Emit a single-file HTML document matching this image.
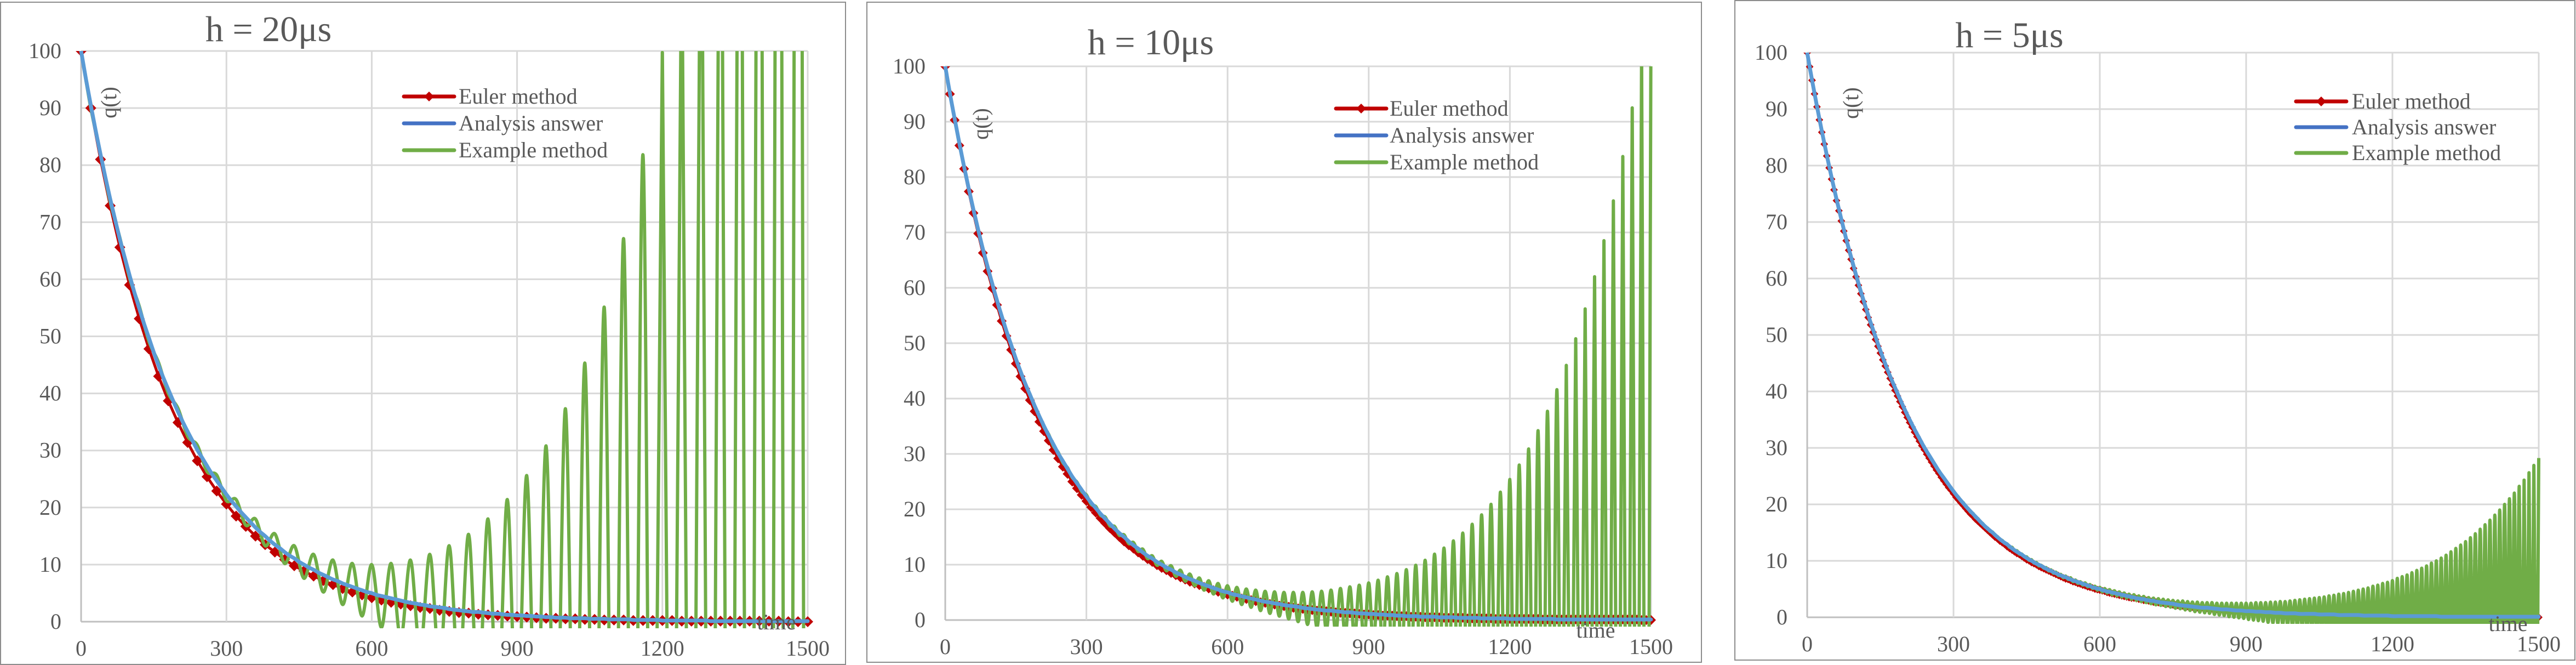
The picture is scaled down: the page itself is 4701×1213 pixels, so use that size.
<!DOCTYPE html>
<html><head><meta charset="utf-8"><title>Euler vs analytic vs example method</title>
<style>
html,body{margin:0;padding:0;background:#fff;width:4701px;height:1213px;overflow:hidden;}
svg{display:block;}
text{font-family:"Liberation Serif","Times New Roman",serif;fill:#595959;}
</style></head>
<body>
<svg id="chart" xmlns="http://www.w3.org/2000/svg" width="4701" height="1213" viewBox="0 0 4701 1213"></svg>
<script>
// ---------- DATA ----------
const xTicks = [0, 300, 600, 900, 1200, 1500];
const yTicks = [0, 10, 20, 30, 40, 50, 60, 70, 80, 90, 100];
const seriesNames = ["Euler method", "Analysis answer", "Example method"];
const panelTitles = ["h = 20\u03bcs", "h = 10\u03bcs", "h = 5\u03bcs"];
const stepSizes = [20, 10, 5];
const analyticStep = 10;
// analytic answer q(t), t = 0..1500 every 10
const analyticValues = [100,95.1,90.5,86.1,81.9,77.9,74.1,70.5,67.0,63.8,
60.7,57.7,54.9,52.2,49.7,47.2,44.9,42.7,40.7,38.7,
36.8,35.0,33.3,31.7,30.1,28.7,27.3,25.9,24.7,23.5,
22.3,21.2,20.2,19.2,18.3,17.4,16.5,15.7,15.0,14.2,
13.5,12.9,12.2,11.6,11.1,10.5,10.0,9.5,9.1,8.6,
8.2,7.8,7.4,7.1,6.7,6.4,6.1,5.8,5.5,5.2,
5.0,4.7,4.5,4.3,4.1,3.9,3.7,3.5,3.3,3.2,
3.0,2.9,2.7,2.6,2.5,2.4,2.2,2.1,2.0,1.9,
1.8,1.7,1.7,1.6,1.5,1.4,1.4,1.3,1.2,1.2,
1.1,1.1,1.0,1.0,0.9,0.9,0.8,0.8,0.7,0.7,
0.7,0.6,0.6,0.6,0.6,0.5,0.5,0.5,0.5,0.4,
0.4,0.4,0.4,0.4,0.3,0.3,0.3,0.3,0.3,0.3,
0.2,0.2,0.2,0.2,0.2,0.2,0.2,0.2,0.2,0.2,
0.1,0.1,0.1,0.1,0.1,0.1,0.1,0.1,0.1,0.1,
0.1,0.1,0.1,0.1,0.1,0.1,0.1,0.1,0.1,0.1,0.1];
// h = 20
const euler20 = [100,90,81,72.9,65.6,59.0,53.1,47.8,43.0,38.7,
34.9,31.4,28.2,25.4,22.9,20.6,18.5,16.7,15.0,13.5,
12.2,10.9,9.8,8.9,8.0,7.2,6.5,5.8,5.2,4.7,
4.2,3.8,3.4,3.1,2.8,2.5,2.3,2.0,1.8,1.6,
1.5,1.3,1.2,1.1,1.0,0.9,0.8,0.7,0.6,0.6,
0.5,0.5,0.4,0.4,0.3,0.3,0.3,0.2,0.2,0.2,
0.2,0.2,0.1,0.1,0.1,0.1,0.1,0.1,0.1,0.1,
0.1,0.1,0.1,0.0,0.0,0.0];
const example20 = [100,90.0,82.0,73.6,67.3,60.2,55.3,49.1,45.4,40.0,
37.4,32.5,30.9,26.3,25.7,21.2,21.4,16.9,18.0,13.3,
15.4,10.2,13.3,7.6,11.8,5.2,10.8,3.0,10.2,1.0,
10.0,-1.0,10.2,-3.0,10.8,-5.2,11.8,-7.5,13.3,-10.2,
15.3,-13.3,18.0,-16.9,21.4,-21.1,25.6,-26.3,30.8,-32.4,
37.3,-39.9,45.3,-48.9,55.1,-59.9,67.1,-73.4,81.8,-89.7,
99.7,-109.7,121.6,-134.0,148.5,-163.7,181.1,-199.9,221.1,-244.1,
270.0,-298.1,329.6,-364.0,402.4,-444.4];
// h = 10
const euler10 = [100,95,90.3,85.7,81.5,77.4,73.5,69.8,66.3,63.0,
59.9,56.9,54.0,51.3,48.8,46.3,44.0,41.8,39.7,37.7,
35.8,34.1,32.4,30.7,29.2,27.7,26.4,25.0,23.8,22.6,
21.5,20.4,19.4,18.4,17.5,16.6,15.8,15.0,14.2,13.5,
12.9,12.2,11.6,11.0,10.5,9.9,9.4,9.0,8.5,8.1,
7.7,7.3,6.9,6.6,6.3,6.0,5.7,5.4,5.1,4.8,
4.6,4.4,4.2,3.9,3.8,3.6,3.4,3.2,3.1,2.9,
2.8,2.6,2.5,2.4,2.2,2.1,2.0,1.9,1.8,1.7,
1.7,1.6,1.5,1.4,1.3,1.3,1.2,1.2,1.1,1.0,
1.0,0.9,0.9,0.8,0.8,0.8,0.7,0.7,0.7,0.6,
0.6,0.6,0.5,0.5,0.5,0.5,0.4,0.4,0.4,0.4,
0.4,0.3,0.3,0.3,0.3,0.3,0.3,0.2,0.2,0.2,
0.2,0.2,0.2,0.2,0.2,0.2,0.2,0.1,0.1,0.1,
0.1,0.1,0.1,0.1,0.1,0.1,0.1,0.1,0.1,0.1,
0.1,0.1,0.1,0.1,0.1,0.1,0.1,0.1,0.0,0.0,0.0];
const example10 = [100,95.0,90.5,85.9,81.9,77.8,74.1,70.3,67.1,63.6,
60.7,57.6,55.0,52.1,49.8,47.1,45.0,42.6,40.8,38.5,
36.9,34.8,33.5,31.4,30.3,28.4,27.5,25.7,24.9,23.2,
22.6,20.9,20.5,18.9,18.6,17.0,16.9,15.3,15.4,13.8,
14.0,12.4,12.8,11.1,11.6,9.9,10.6,8.9,9.8,7.9,
9.0,7.0,8.3,6.2,7.6,5.4,7.1,4.7,6.6,4.0,
6.2,3.4,5.9,2.8,5.6,2.3,5.4,1.7,5.2,1.2,
5.1,0.7,5.0,0.2,5.0,-0.3,5.0,-0.8,5.1,-1.3,
5.2,-1.8,5.4,-2.4,5.7,-2.9,6.0,-3.5,6.3,-4.2,
6.7,-4.8,7.2,-5.6,7.8,-6.4,8.4,-7.2,9.1,-8.1,
9.9,-9.1,10.8,-10.2,11.9,-11.4,13.0,-12.7,14.3,-14.1,
15.7,-15.7,17.3,-17.4,19.0,-19.3,20.9,-21.4,23.1,-23.7,
25.4,-26.2,28.0,-29.0,30.9,-32.1,34.2,-35.5,37.7,-39.3,
41.6,-43.5,46.0,-48.1,50.8,-53.1,56.2,-58.7,62.0,-65.0,
68.5,-71.9,75.7,-79.4,83.7,-87.8,92.5,-97.0,102.2,-107.2,112.9];
// h = 5
const euler5 = [100,97.5,95.1,92.7,90.4,88.1,85.9,83.8,81.7,79.6,
77.6,75.7,73.8,72.0,70.2,68.4,66.7,65.0,63.4,61.8,
60.3,58.8,57.3,55.9,54.5,53.1,51.8,50.5,49.2,48.0,
46.8,45.6,44.5,43.4,42.3,41.2,40.2,39.2,38.2,37.3,
36.3,35.4,34.5,33.7,32.8,32.0,31.2,30.4,29.7,28.9,
28.2,27.5,26.8,26.1,25.5,24.8,24.2,23.6,23.0,22.5,
21.9,21.3,20.8,20.3,19.8,19.3,18.8,18.3,17.9,17.4,
17.0,16.6,16.2,15.8,15.4,15.0,14.6,14.2,13.9,13.5,
13.2,12.9,12.5,12.2,11.9,11.6,11.3,11.1,10.8,10.5,
10.2,10.0,9.7,9.5,9.3,9.0,8.8,8.6,8.4,8.2,
8.0,7.8,7.6,7.4,7.2,7.0,6.8,6.7,6.5,6.3,
6.2,6.0,5.9,5.7,5.6,5.4,5.3,5.2,5.0,4.9,
4.8,4.7,4.6,4.4,4.3,4.2,4.1,4.0,3.9,3.8,
3.7,3.6,3.5,3.4,3.4,3.3,3.2,3.1,3.0,3.0,
2.9,2.8,2.7,2.7,2.6,2.5,2.5,2.4,2.4,2.3,
2.2,2.2,2.1,2.1,2.0,2.0,1.9,1.9,1.8,1.8,
1.7,1.7,1.7,1.6,1.6,1.5,1.5,1.5,1.4,1.4,
1.4,1.3,1.3,1.3,1.2,1.2,1.2,1.1,1.1,1.1,
1.0,1.0,1.0,1.0,0.9,0.9,0.9,0.9,0.9,0.8,
0.8,0.8,0.8,0.8,0.7,0.7,0.7,0.7,0.7,0.6,
0.6,0.6,0.6,0.6,0.6,0.6,0.5,0.5,0.5,0.5,
0.5,0.5,0.5,0.5,0.4,0.4,0.4,0.4,0.4,0.4,
0.4,0.4,0.4,0.4,0.3,0.3,0.3,0.3,0.3,0.3,
0.3,0.3,0.3,0.3,0.3,0.3,0.3,0.2,0.2,0.2,
0.2,0.2,0.2,0.2,0.2,0.2,0.2,0.2,0.2,0.2,
0.2,0.2,0.2,0.2,0.2,0.2,0.2,0.1,0.1,0.1,
0.1,0.1,0.1,0.1,0.1,0.1,0.1,0.1,0.1,0.1,
0.1,0.1,0.1,0.1,0.1,0.1,0.1,0.1,0.1,0.1,
0.1,0.1,0.1,0.1,0.1,0.1,0.1,0.1,0.1,0.1,
0.1,0.1,0.1,0.1,0.1,0.1,0.1,0.1,0.1,0.1,0.0];
const example5 = [100,97.5,95.1,92.8,90.5,88.2,86.1,83.9,81.9,79.8,
77.9,76.0,74.1,72.3,70.5,68.7,67.0,65.4,63.8,62.2,
60.7,59.2,57.7,56.3,54.9,53.5,52.2,50.9,49.7,48.4,
47.3,46.0,45.0,43.8,42.8,41.6,40.7,39.6,38.7,37.7,
36.8,35.8,35.0,34.1,33.3,32.4,31.7,30.8,30.2,29.3,
28.7,27.9,27.3,26.5,26.0,25.2,24.7,24.0,23.5,22.8,
22.4,21.7,21.3,20.6,20.3,19.6,19.3,18.6,18.4,17.7,
17.5,16.9,16.6,16.0,15.8,15.2,15.1,14.5,14.3,13.8,
13.6,13.1,13.0,12.4,12.4,11.8,11.8,11.2,11.2,10.7,
10.7,10.1,10.2,9.6,9.7,9.1,9.2,8.7,8.8,8.2,
8.4,7.8,8.0,7.4,7.6,7.0,7.3,6.7,7.0,6.3,
6.6,6.0,6.3,5.7,6.1,5.4,5.8,5.1,5.5,4.8,
5.3,4.5,5.1,4.3,4.9,4.0,4.7,3.8,4.5,3.6,
4.3,3.4,4.1,3.2,4.0,3.0,3.8,2.8,3.7,2.6,
3.5,2.4,3.4,2.2,3.3,2.1,3.2,1.9,3.1,1.8,
3.0,1.6,2.9,1.5,2.9,1.3,2.8,1.2,2.7,1.0,
2.7,0.9,2.6,0.8,2.6,0.7,2.6,0.5,2.5,0.4,
2.5,0.3,2.5,0.1,2.5,0.0,2.5,-0.1,2.5,-0.2,
2.5,-0.4,2.5,-0.5,2.6,-0.6,2.6,-0.7,2.6,-0.9,
2.7,-1.0,2.7,-1.1,2.8,-1.3,2.8,-1.4,2.9,-1.6,
3.0,-1.7,3.1,-1.9,3.2,-2.0,3.3,-2.2,3.4,-2.4,
3.5,-2.5,3.6,-2.7,3.8,-2.9,3.9,-3.1,4.1,-3.3,
4.2,-3.5,4.4,-3.7,4.6,-4.0,4.8,-4.2,5.0,-4.4,
5.2,-4.7,5.5,-5.0,5.7,-5.3,6.0,-5.6,6.2,-5.9,
6.5,-6.2,6.9,-6.6,7.2,-6.9,7.5,-7.3,7.9,-7.7,
8.3,-8.1,8.7,-8.5,9.1,-9.0,9.6,-9.5,10.0,-10.0,
10.5,-10.5,11.0,-11.0,11.6,-11.6,12.2,-12.2,12.8,-12.9,
13.4,-13.5,14.1,-14.3,14.8,-15.0,15.6,-15.8,16.4,-16.6,
17.2,-17.4,18.1,-18.3,19.0,-19.3,20.0,-20.3,21.0,-21.3,
22.0,-22.4,23.2,-23.6,24.3,-24.8,25.6,-26.1,26.9,-27.4,28.2];

// ---------- LAYOUT ----------
const NS = "http://www.w3.org/2000/svg";
const svg = document.getElementById("chart");
const panels = [
  {frame:[1,4,1542,1208], x0:148, x1:1474, y0:1134, y1:93, title:[490,75], legend:[737,837,176,49], qt:[199,187], time:[1417,1148], marker:20, euler:euler20, example:example20},
  {frame:[1582,4,1523,1204], x0:1725, x1:3013, y0:1131, y1:121, title:[2100,99], legend:[2438,2536,198,49], qt:[1790,226], time:[2912,1163], marker:18, euler:euler10, example:example10},
  {frame:[3166,1,1533,1203], x0:3298, x1:4633, y0:1126, y1:96, title:[3667,86], legend:[4190,4292,185,47], qt:[3378,188], time:[4577,1151], marker:14, euler:euler5, example:example5}
];
function mk(tag, attrs, parent){
  const e = document.createElementNS(NS, tag);
  for (const k in attrs) e.setAttribute(k, attrs[k]);
  (parent||svg).appendChild(e);
  return e;
}
function smoothPath(pts){
  let d = "M" + pts[0][0].toFixed(1) + "," + pts[0][1].toFixed(1);
  for (let i = 0; i < pts.length - 1; i++) {
    const p0 = pts[i-1] || pts[i], p1 = pts[i], p2 = pts[i+1], p3 = pts[i+2] || pts[i+1];
    const c1x = p1[0] + (p2[0]-p0[0])/6, c1y = p1[1] + (p2[1]-p0[1])/6;
    const c2x = p2[0] - (p3[0]-p1[0])/6, c2y = p2[1] - (p3[1]-p1[1])/6;
    d += "C" + c1x.toFixed(1) + "," + c1y.toFixed(1) + " " + c2x.toFixed(1) + "," + c2y.toFixed(1) + " " + p2[0].toFixed(1) + "," + p2[1].toFixed(1);
  }
  return d;
}
function diamond(cx, cy, s){
  const r = s/2;
  return "M"+cx+","+(cy-r)+"L"+(cx+r)+","+cy+"L"+cx+","+(cy+r)+"L"+(cx-r)+","+cy+"Z";
}

panels.forEach((P, pi) => {
  const g = mk("g", {});
  
  
  const xs = v => P.x0 + (v/1500)*(P.x1-P.x0);
  const ys = v => P.y0 - (v/100)*(P.y0-P.y1);
  const frame = mk("rect", {x:P.frame[0], y:P.frame[1], width:P.frame[2], height:P.frame[3], fill:"#fff", stroke:"#8c8c8c", "stroke-width":2}, g);
  
  

  yTicks.forEach(v => {
    const l = mk("line", {x1:P.x0, x2:P.x1, y1:ys(v), y2:ys(v), stroke: v===0 ? "#bfbfbf" : "#d9d9d9", "stroke-width":3}, g);
    
    
    const t = mk("text", {x:P.x0-36, y:ys(v)+13, "text-anchor":"end", "font-size":40}, g);
    t.textContent = String(v);
    
    
  });
  xTicks.forEach(v => {
    const l = mk("line", {x1:xs(v), x2:xs(v), y1:P.y1, y2:P.y0, stroke: v===0 ? "#bfbfbf" : "#d9d9d9", "stroke-width":3}, g);
    
    
    const t = mk("text", {x:xs(v), y:P.y0+62, "text-anchor":"middle", "font-size":40}, g);
    t.textContent = String(v);
    
    
  });

  const clip = mk("clipPath", {id:"clip"+pi}, g);
  mk("rect", {x:P.x0-15, y:P.y1, width:(P.x1-P.x0)+30, height:(P.y0-P.y1)+12}, clip);
  const plot = mk("g", {"clip-path":"url(#clip"+pi+")"}, g);
  
  

  const h = stepSizes[pi];
  const ePts = P.euler.map((v,i) => [xs(i*h), ys(v)]);
  const eLine = mk("polyline", {points: ePts.map(p => p[0].toFixed(1)+","+p[1].toFixed(1)).join(" "), fill:"none", stroke:"#C00000", "stroke-width":5, "stroke-linejoin":"round"}, plot);
  
  
  ePts.forEach(p => {
    const m = mk("path", {d: diamond(p[0], p[1], P.marker), fill:"#C00000"}, plot);
    
    
  });
  const xPts = P.example.map((v,i) => [xs(i*h), ys(v)]);
  const gLine = mk("path", {d: smoothPath(xPts), fill:"none", stroke:"#70AD47", "stroke-width":6, "stroke-linejoin":"round"}, plot);
  
  
  const aPts = analyticValues.map((v,i) => [xs(i*analyticStep), ys(v)]);
  const aLine = mk("path", {d: smoothPath(aPts), fill:"none", stroke:"#5B9BD5", "stroke-width":7, "stroke-linecap":"round"}, plot);
  
  

  const title = mk("text", {x:P.title[0], y:P.title[1], "text-anchor":"middle", "font-size":66}, g);
  title.textContent = panelTitles[pi];
  
  

  const qt = mk("text", {x:0, y:0, "text-anchor":"middle", "font-size":40, transform:"translate("+P.qt[0]+","+P.qt[1]+") rotate(-90) translate(0,13)"}, g);
  qt.textContent = "q(t)";
  
  
  const tm = mk("text", {x:P.time[0], y:P.time[1], "text-anchor":"middle", "font-size":40}, g);
  tm.textContent = "time";
  
  

  const colors = ["#C00000", "#4472C4", "#70AD47"];
  const [lx, tx, ly, gap] = P.legend;
  seriesNames.forEach((name, si) => {
    const cy = ly + si*gap;
    const entry = mk("g", {}, g);
    
    
    mk("line", {x1:lx, x2:lx+92, y1:cy, y2:cy, stroke:colors[si], "stroke-width":7, "stroke-linecap":"round"}, entry);
    if (si === 0) mk("path", {d: diamond(lx+46, cy, 18), fill:"#C00000"}, entry);
    const t = mk("text", {x:tx, y:cy+13, "font-size":40}, entry);
    t.textContent = name;
  });
});
</script>
</body></html>
